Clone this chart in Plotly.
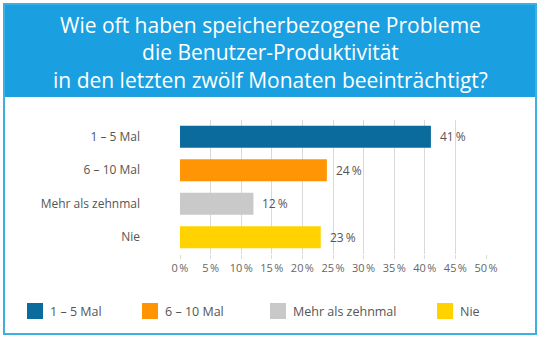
import plotly.graph_objects as go

# Survey answers and shares (percent)
categories = ["1 – 5 Mal", "6 – 10 Mal", "Mehr als zehnmal", "Nie"]
values = [41, 24, 12, 23]
colors = ["#0a6b9c", "#ff9505", "#c9c9c9", "#ffd200"]
tick_vals = [0, 5, 10, 15, 20, 25, 30, 35, 40, 45, 50]
tick_text = [f"{v}\u202f%" for v in tick_vals]
title_text = ("Wie oft haben speicherbezogene Probleme<br>"
              "die Benutzer-Produktivität<br>"
              "in den letzten zwölf Monaten beeinträchtigt?")

W, H = 540, 338
L, R, T, B = 180, 54, 120, 84
PW, PH = W - L - R, H - T - B


def px(x):
    return (x - L) / PW


def py(y):
    return (H - B - y) / PH


FONT = "Open Sans"
TXT = "#555555"

fig = go.Figure()
for cat, val, col in zip(categories, values, colors):
    fig.add_trace(go.Bar(
        x=[val], y=[cat], orientation="h",
        marker=dict(color=col, line=dict(width=0)),
        width=0.66, showlegend=False, hoverinfo="skip",
    ))
    fig.add_annotation(
        x=val, y=cat, xref="x", yref="y",
        text=f"{val}\u2009%", showarrow=False,
        xanchor="left", xshift=7,
        font=dict(family=FONT, size=12, color=TXT),
    )

shapes = [
    # title band
    dict(type="rect", xref="paper", yref="paper",
         x0=px(3), x1=px(537), y0=py(97), y1=py(3),
         fillcolor="#1a9fe0", line=dict(width=0), layer="below"),
    # outer frame
    dict(type="rect", xref="paper", yref="paper",
         x0=px(4), x1=px(536), y0=py(334), y1=py(4),
         fillcolor="rgba(0,0,0,0)", line=dict(color="#3db0e2", width=2),
         layer="below"),
]

# legend swatches and labels
legend_x = [27, 142, 270, 437]
for lx, cat, col in zip(legend_x, categories, colors):
    shapes.append(dict(type="rect", xref="paper", yref="paper",
                       x0=px(lx), x1=px(lx + 16), y0=py(319), y1=py(303),
                       fillcolor=col, line=dict(width=0)))
    fig.add_annotation(
        x=px(lx + 21), y=py(311), xref="paper", yref="paper",
        text=cat, showarrow=False, xanchor="left", yanchor="middle",
        font=dict(family=FONT, size=12.5, color=TXT),
    )

fig.add_annotation(
    x=px(270), y=py(52), xref="paper", yref="paper",
    text=title_text, showarrow=False, xanchor="center", yanchor="middle",
    align="center",
    font=dict(family=FONT, size=21, color="white"),
)

fig.update_layout(
    width=W, height=H,
    margin=dict(l=L, r=R, t=T, b=B, pad=0),
    paper_bgcolor="white", plot_bgcolor="white",
    shapes=shapes,
    bargap=0.34,
    xaxis=dict(
        range=[0, 50], tickvals=tick_vals, ticktext=tick_text,
        showgrid=True, gridcolor="#d9d9d9", gridwidth=1,
        zeroline=False, showline=False,
        ticks="outside", ticklen=4, tickcolor="#d9d9d9",
        tickfont=dict(family=FONT, size=11, color="#666666"),
        layer="above traces", fixedrange=True,
    ),
    yaxis=dict(
        categoryorder="array", categoryarray=categories,
        autorange="reversed", showgrid=False, zeroline=False,
        showline=False, ticks="", ticklabelstandoff=39,
        tickfont=dict(family=FONT, size=12, color=TXT),
        fixedrange=True,
    ),
    font=dict(family=FONT),
)

fig.write_html("out.html", config=dict(displayModeBar=False))
